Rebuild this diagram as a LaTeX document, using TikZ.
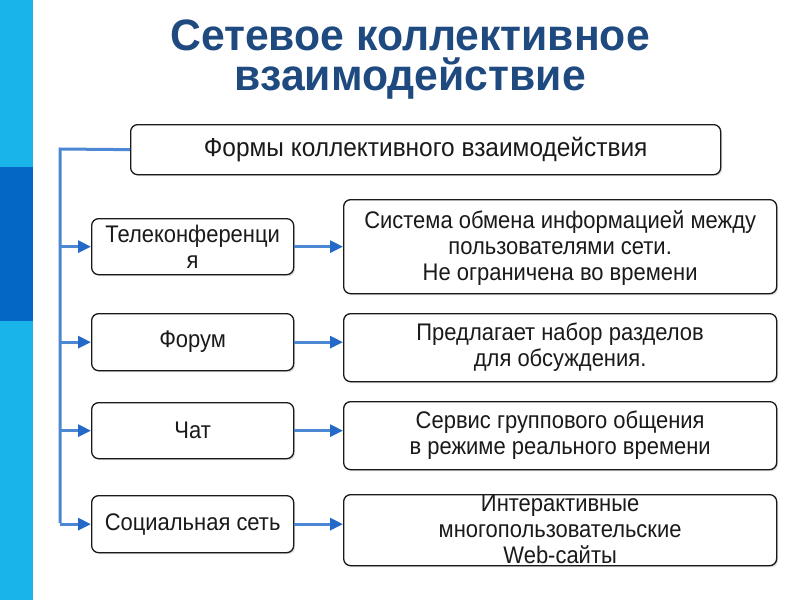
\documentclass[tikz,border=0pt]{standalone}
\usepackage{fontspec}
\setmainfont{Liberation Sans}
\newfontfamily\boxfont[FakeStretch=0.915]{Liberation Sans}
\newfontfamily\topfont[FakeStretch=0.94]{Liberation Sans}
\newfontfamily\ttlfont[FakeStretch=0.97]{Liberation Sans}
\usetikzlibrary{arrows.meta,shadows}
\definecolor{barlight}{HTML}{19B5EA}
\definecolor{bardark}{HTML}{0467C5}
\definecolor{titleblue}{HTML}{1F4A80}
\definecolor{linkblue}{HTML}{4C87D3}
\definecolor{tipblue}{HTML}{2469C8}
\definecolor{ink}{HTML}{1A1A1A}
\tikzset{
  box/.style={draw=ink, line width=1.3pt, rounded corners=7pt, fill=white, inner sep=0pt,
    anchor=north west, drop shadow={shadow xshift=1.5pt, shadow yshift=-1.5pt, opacity=0.25}},
  txt/.style={font=\boxfont\fontsize{24}{26}\selectfont, align=center, text=ink, inner sep=0pt},
  toptxt/.style={font=\topfont\fontsize{26}{28}\selectfont, align=center, text=ink, inner sep=0pt},
  trunk/.style={draw=linkblue, line width=3pt},
  link/.style={draw=linkblue, line width=3pt, -{Triangle[length=13pt,width=12pt,color=tipblue]}},
  ttl/.style={font=\ttlfont\fontsize{44}{40}\selectfont\bfseries, text=titleblue, anchor=base, inner sep=0pt, align=center}
}
\begin{document}
\begin{tikzpicture}[x=1pt,y=-1pt]
\useasboundingbox (0,0) rectangle (800,600);
\fill[white] (0,0) rectangle (800,600);
\fill[barlight] (0,0) rectangle (33,167);
\fill[bardark] (0,167) rectangle (33,321);
\fill[barlight] (0,321) rectangle (33,600);

\node[ttl] (title) at (410,90) {Сетевое коллективное\\взаимодействие};

\node[box, minimum width=590pt, minimum height=50pt] (top) at (130,124) {};
\node[toptxt] (toptxt) at (top.center) {Формы коллективного взаимодействия};

\node[box, minimum width=202pt, minimum height=56pt] (l1) at (91,218) {};
\node[box, minimum width=202pt, minimum height=57pt] (l2) at (91,313) {};
\node[box, minimum width=202pt, minimum height=56pt] (l3) at (91,402) {};
\node[box, minimum width=202pt, minimum height=57pt] (l4) at (91,495) {};

\node[box, minimum width=433pt, minimum height=94pt] (r1) at (343,199) {};
\node[box, minimum width=433pt, minimum height=68pt] (r2) at (343,313) {};
\node[box, minimum width=433pt, minimum height=68pt] (r3) at (343,401) {};
\node[box, minimum width=433pt, minimum height=71pt] (r4) at (343,494) {};

\node[txt] (l1t) at (l1.center) {Телеконференци\\я};
\node[txt] (l2t) at (l2.center) {Форум};
\node[txt] (l3t) at (l3.center) {Чат};
\node[txt] (l4t) at (l4.center) {Социальная сеть};

\node[txt] (r1t) at ([yshift=-1pt]r1.center) {Система обмена информацией между\\пользователями сети.\\Не ограничена во времени};
\node[txt] (r2t) at ([yshift=0pt]r2.center) {Предлагает набор разделов\\для обсуждения.};
\node[txt] (r3t) at (r3.center) {Сервис группового общения\\в режиме реального времени};
\node[txt] (r4t) at ([yshift=1pt]r4.center) {Интерактивные\\многопользовательские\\Web-сайты};

\coordinate (tr) at (60,149);
\coordinate (tb) at (60,523);
\draw[trunk] (top.west) -- (tr) -- (tb);
\foreach \n in {1,2,3,4}{
  \draw[link] (tr |- l\n.west) -- (l\n.west);
  \draw[link] (l\n.east) -- (r\n.west |- l\n.east);
}
\end{tikzpicture}
\end{document}
